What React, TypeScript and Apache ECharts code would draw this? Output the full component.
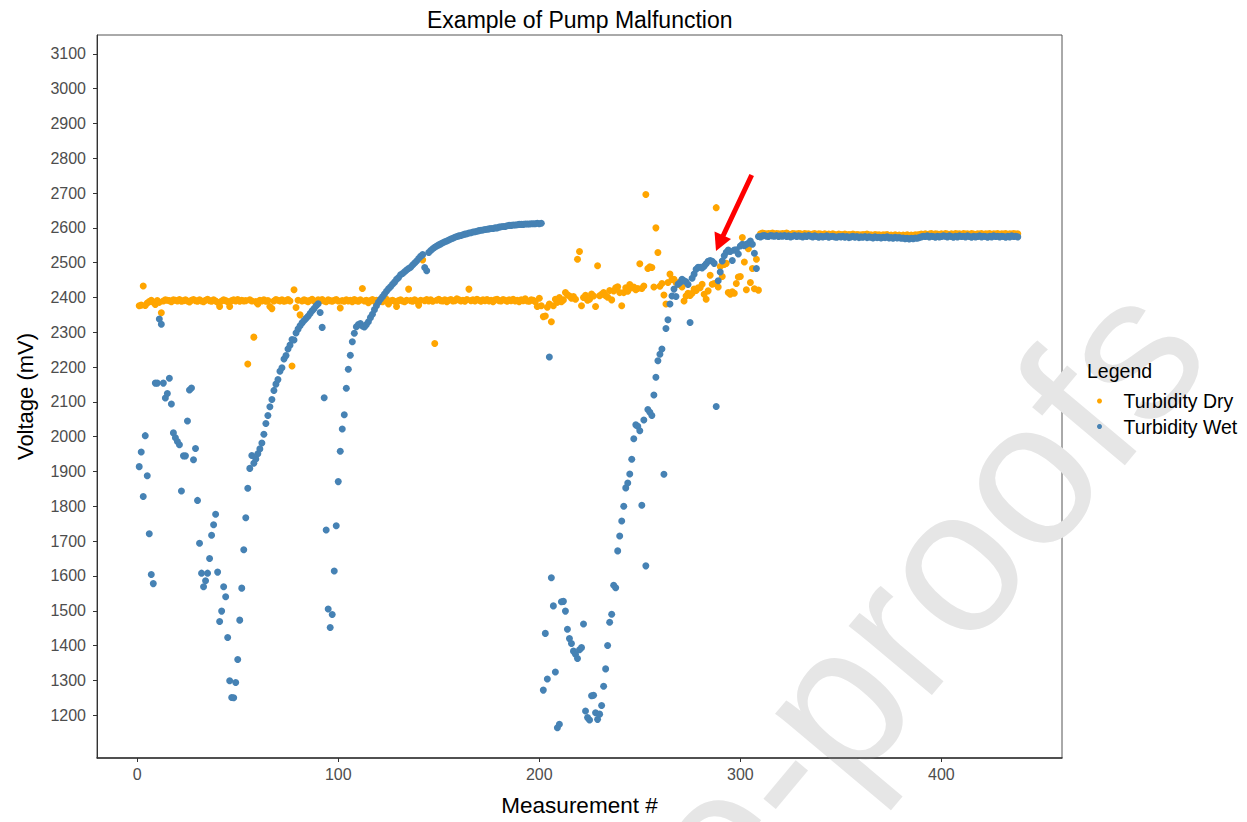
import React, { useEffect, useRef } from 'react';
import * as echarts from 'echarts';

// Turbidity Dry, measurements 1-100
const dry001 = [
  2376, 2378, 2433, 2377, 2384, 2388, 2392, 2386, 2380, 2391,
  2386, 2356, 2390, 2393, 2392, 2391, 2388, 2393, 2392, 2390,
  2394, 2389, 2391, 2393, 2390, 2387, 2392, 2394, 2391, 2389,
  2393, 2390, 2388, 2392, 2395, 2391, 2389, 2393, 2390, 2386,
  2374, 2390, 2393, 2391, 2388, 2374, 2391, 2393, 2390, 2394,
  2389, 2392, 2390, 2391, 2209, 2393, 2390, 2286, 2388, 2381,
  2392, 2390, 2393, 2389, 2391, 2374, 2368, 2390, 2394, 2392,
  2390, 2393, 2389, 2391, 2394, 2390, 2203, 2422, 2371, 2392,
  2350, 2390, 2393, 2391, 2388, 2392, 2395, 2390, 2389, 2393,
  2391, 2394, 2390, 2388, 2393, 2391, 2389, 2392, 2394, 2390,
];
// Turbidity Dry, measurements 101-200
const dry101 = [
  2370, 2391, 2389, 2393, 2390, 2392, 2388, 2394, 2391, 2389,
  2393, 2426, 2390, 2392, 2385, 2391, 2394, 2389, 2392, 2390,
  2393, 2388, 2391, 2395, 2381, 2390, 2392, 2389, 2374, 2391,
  2393, 2390, 2388, 2392, 2424, 2391, 2389, 2393, 2390, 2378,
  2392, 2508, 2391, 2394, 2390, 2393, 2389, 2268, 2392, 2395,
  2391, 2390, 2393, 2388, 2392, 2394, 2390, 2391, 2396, 2393,
  2390, 2392, 2389, 2394, 2424, 2391, 2393, 2390, 2395, 2392,
  2389, 2393, 2391, 2394, 2390, 2392, 2388, 2393, 2395, 2391,
  2390, 2394, 2392, 2389, 2393, 2391, 2395, 2390, 2392, 2388,
  2393, 2391, 2396, 2390, 2389, 2393, 2392, 2388, 2374, 2398,
];
// Turbidity Dry, measurements 201-310
const dry201 = [
  2376, 2345, 2347, 2372, 2381, 2330, 2376, 2395, 2386, 2400,
  2388, 2393, 2414, 2408, 2404, 2398, 2403, 2395, 2510, 2532,
  2376, 2400, 2406, 2392, 2395, 2410, 2404, 2374, 2491, 2405,
  2409, 2414, 2405, 2401, 2420, 2393, 2419, 2428, 2431, 2414,
  2376, 2414, 2428, 2418, 2437, 2428, 2430, 2422, 2426, 2497,
  2426, 2433, 2696, 2483, 2488, 2486, 2430, 2600, 2529, 2432,
  2440, 2407, 2381, 2443, 2467, 2452, 2452, 2443, 2438, 2445,
  2430, 2390, 2404, 2412, 2406, 2412, 2424, 2420, 2428, 2428,
  2438, 2409, 2395, 2419, 2464, 2438, 2440, 2658, 2430, 2489,
  2460, 2495, 2498, 2414, 2409, 2416, 2412, 2440, 2459, 2460,
  2572, 2502, 2422, 2540, 2443, 2483, 2425, 2510, 2421, 2583,
];
// Turbidity Dry, measurements 311-438
const dry311 = [
  2585, 2584, 2582, 2584, 2583, 2585, 2582, 2584, 2583, 2582,
  2584, 2583, 2585, 2582, 2581, 2584, 2583, 2582, 2584, 2583,
  2581, 2584, 2582, 2583, 2580, 2582, 2584, 2581, 2583, 2582,
  2580, 2583, 2581, 2582, 2580, 2583, 2581, 2579, 2582, 2581,
  2580, 2582, 2579, 2581, 2580, 2582, 2579, 2581, 2580, 2579,
  2581, 2580, 2582, 2579, 2580, 2578, 2581, 2579, 2580, 2578,
  2580, 2579, 2581, 2578, 2579, 2577, 2580, 2578, 2579, 2577,
  2579, 2578, 2580, 2577, 2579, 2578, 2580, 2579, 2581, 2582,
  2580, 2583, 2581, 2582, 2584, 2581, 2583, 2582, 2580, 2583,
  2581, 2584, 2582, 2580, 2583, 2581, 2584, 2582, 2583, 2581,
  2584, 2582, 2583, 2581, 2584, 2582, 2580, 2583, 2582, 2584,
  2581, 2583, 2582, 2584, 2581, 2583, 2582, 2584, 2581, 2583,
  2582, 2584, 2581, 2583, 2582, 2584, 2582, 2583,
];

// Turbidity Wet, measurements 1-100
const wet001 = [
  1914, 1956, 1828, 2003, 1888, 1721, 1604, 1578, 2154, 2154,
  2338, 2323, 2154, 2111, 2124, 2168, 2094, 2011, 1997, 1986,
  1977, 1844, 1945, 1945, 2045, 2134, 2140, 1934, 1966, 1817,
  1694, 1608, 1569, 1586, 1608, 1650, 1717, 1747, 1777, 1611,
  1469, 1499, 1569, 1540, 1423, 1299, 1251, 1250, 1294, 1360,
  1473, 1565, 1675, 1767, 1852, 1909, 1946, 1924, 1936, 1951,
  1965, 1982, 2007, 2038, 2061, 2086, 2107, 2133, 2151, 2164,
  2188, 2198, 2223, 2233, 2252, 2263, 2279, 2278, 2298, 2309,
  2319, 2327, 2334, 2340, 2346, 2354, 2362, 2368, 2376, 2382,
  2357, 2314, 2112, 1732, 1505, 1452, 1489, 1614, 1744, 1871,
];
// Turbidity Wet, measurements 101-200
const wet101 = [
  1958, 2022, 2063, 2139, 2194, 2234, 2273, 2297, 2316, 2322,
  2325, 2318, 2315, 2322, 2330, 2342, 2352, 2365, 2376, 2386,
  2395, 2402, 2410, 2418, 2425, 2431, 2438, 2444, 2452, 2457,
  2465, 2469, 2474, 2479, 2483, 2487, 2493, 2499, 2505, 2512,
  2518, 2523, 2486, 2477, 2529, 2535, 2540, 2544, 2548, 2551,
  2554, 2557, 2560, 2562, 2565, 2568, 2570, 2573, 2575, 2577,
  2578, 2580, 2582, 2583, 2585, 2586, 2588, 2589, 2590, 2592,
  2593, 2594, 2595, 2596, 2597, 2598, 2598, 2600, 2600, 2602,
  2603, 2604, 2604, 2606, 2607, 2607, 2608, 2608, 2609, 2610,
  2610, 2610, 2611, 2611, 2611, 2612, 2612, 2612, 2613, 2612,
];
// Turbidity Wet, measurements 201-310
const wet201 = [
  2613, 1272, 1435, 1304, 2229, 1595, 1514, 1324, 1164, 1174,
  1526, 1527, 1499, 1447, 1420, 1406, 1384, 1375, 1363, 1388,
  1394, 1462, 1212, 1193, 1186, 1256, 1257, 1207, 1188, 1203,
  1228, 1283, 1333, 1400, 1467, 1490, 1573, 1566, 1672, 1715,
  1758, 1800, 1853, 1867, 1893, 1935, 1994, 2034, 2030, 2017,
  1803, 2048, 1629, 2078, 2070, 2061, 2120, 2171, 2218, 2237,
  2252, 1892, 2311, 2336, 2381, 2404, 2424, 2403, 2438, 2443,
  2452, 2448, 2445, 2437, 2328, 2455, 2467, 2481, 2487, 2487,
  2485, 2490, 2497, 2504, 2506, 2504, 2498, 2087, 2448, 2473,
  2505, 2520, 2530, 2536, 2532, 2506, 2536, 2537, 2525, 2548,
  2553, 2549, 2553, 2556, 2562, 2553, 2527, 2483, 2575, 2574,
];
// Turbidity Wet, measurements 311-438
const wet311 = [
  2577, 2578, 2576, 2575, 2578, 2577, 2576, 2578, 2575, 2577,
  2576, 2578, 2575, 2577, 2574, 2576, 2578, 2575, 2577, 2576,
  2574, 2577, 2575, 2578, 2576, 2574, 2577, 2575, 2573, 2576,
  2574, 2575, 2577, 2573, 2575, 2576, 2574, 2573, 2575, 2574,
  2576, 2573, 2575, 2572, 2574, 2576, 2573, 2575, 2572, 2574,
  2573, 2575, 2572, 2574, 2573, 2571, 2574, 2572, 2573, 2571,
  2573, 2572, 2574, 2571, 2572, 2570, 2573, 2571, 2572, 2570,
  2571, 2569, 2570, 2568, 2570, 2569, 2571, 2570, 2572, 2574,
  2576, 2575, 2577, 2574, 2576, 2575, 2573, 2576, 2574, 2575,
  2577, 2576, 2574, 2577, 2575, 2573, 2576, 2574, 2577, 2575,
  2576, 2574, 2577, 2575, 2573, 2576, 2574, 2575, 2577, 2574,
  2576, 2575, 2573, 2576, 2574, 2577, 2575, 2576, 2574, 2576,
  2575, 2573, 2576, 2574, 2577, 2575, 2576, 2574,
];

const dryValues = [...dry001, ...dry101, ...dry201, ...dry311];
const wetValues = [...wet001, ...wet101, ...wet201, ...wet311];

const xTicks = [0, 100, 200, 300, 400];
const yTicks = [1200, 1300, 1400, 1500, 1600, 1700, 1800, 1900, 2000, 2100, 2200, 2300, 2400, 2500, 2600, 2700, 2800, 2900, 3000, 3100];
const seriesNames = ['Turbidity Dry', 'Turbidity Wet'];
const seriesColors = ['#FFA500', '#4682B4'];

export default function App() {
  const ref = useRef<HTMLDivElement>(null);

  useEffect(() => {
    if (!ref.current) return;
    const chart = echarts.init(ref.current, null, { renderer: 'svg' });
    const font = '"Liberation Sans", Arial, sans-serif';
    const toPoints = (vals: number[]) => vals.map((v, i) => [i + 1, v]);
    const rot = (50 * Math.PI) / 180;
    const plain = (v: number) => String(v);

    chart.setOption({
      animation: false,
      backgroundColor: '#ffffff',
      textStyle: { fontFamily: font },
      title: {
        text: 'Example of Pump Malfunction',
        left: 422,
        top: 3,
        textStyle: { fontSize: 23, fontWeight: 'normal', color: '#000', fontFamily: font },
      },
      grid: {
        left: 97,
        right: 185,
        top: 35,
        bottom: 62,
        show: true,
        borderColor: '#555',
        borderWidth: 1,
        backgroundColor: 'transparent',
      },
      xAxis: {
        type: 'value',
        min: -20,
        max: 460,
        name: 'Measurement #',
        nameLocation: 'middle',
        nameGap: 36,
        nameTextStyle: { fontSize: 22.5, color: '#000', fontFamily: font },
        splitLine: { show: false },
        axisLine: { show: true, onZero: false, lineStyle: { color: '#333', width: 1.5 } },
        axisTick: { show: true, customValues: xTicks, length: 4, lineStyle: { color: '#333' } },
        axisLabel: { customValues: xTicks, formatter: plain, fontSize: 16, color: '#4d4d4d', margin: 8, fontFamily: font },
      },
      yAxis: {
        type: 'value',
        min: 1077,
        max: 3154,
        name: 'Voltage (mV)',
        nameLocation: 'middle',
        nameGap: 61,
        nameTextStyle: { fontSize: 22, color: '#000', fontFamily: font },
        splitLine: { show: false },
        axisLine: { show: true, onZero: false, lineStyle: { color: '#333', width: 1 } },
        axisTick: { show: true, customValues: yTicks, length: 4, lineStyle: { color: '#333' } },
        axisLabel: { customValues: yTicks, formatter: plain, fontSize: 16, color: '#4d4d4d', margin: 11, fontFamily: font },
      },
      legend: {
        data: seriesNames,
        orient: 'vertical',
        left: 1092,
        top: 386,
        itemWidth: 38,
        itemHeight: 5,
        itemGap: 5.5,
        icon: 'circle',
        selectedMode: false,
        textStyle: { fontSize: 19.5, color: '#000', fontFamily: font },
      },
      series: [
        {
          name: seriesNames[0],
          type: 'scatter',
          data: toPoints(dryValues),
          symbolSize: 7,
          itemStyle: { color: seriesColors[0], opacity: 1 },
          z: 2,
        },
        {
          name: seriesNames[1],
          type: 'scatter',
          data: toPoints(wetValues),
          symbolSize: 7,
          itemStyle: { color: seriesColors[1], opacity: 1 },
          z: 3,
        },
      ],
      graphic: [
        {
          type: 'text',
          x: 1161,
          y: 311,
          rotation: rot,
          silent: true,
          z: 0,
          style: {
            text: 're-proofs',
            fontSize: 205,
            fontFamily: font,
            fill: '#e6e6e6',
            align: 'right',
            verticalAlign: 'middle',
          },
        },
        {
          type: 'text',
          x: 1087,
          y: 371,
          z: 5,
          style: {
            text: 'Legend',
            fontSize: 19.5,
            fontFamily: font,
            fill: '#000',
            align: 'left',
            verticalAlign: 'middle',
          },
        },
        {
          type: 'line',
          z: 10,
          shape: { x1: 751.7, y1: 175, x2: 723, y2: 236 },
          style: { stroke: '#ff0000', lineWidth: 5 },
        },
        {
          type: 'polygon',
          z: 10,
          shape: { points: [[716, 251], [714.5, 231.5], [731, 239]] },
          style: { fill: '#ff0000' },
        },
      ],
    });

    return () => chart.dispose();
  }, []);

  return <div ref={ref} style={{ position: 'absolute', left: 0, top: 0, width: 1247, height: 822 }} />;
}
